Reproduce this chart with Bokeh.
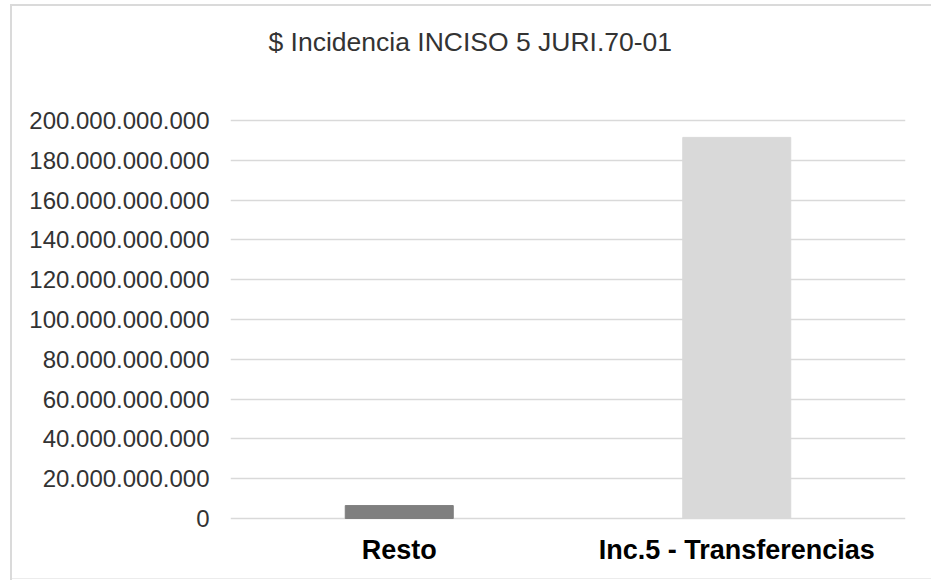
from bokeh.plotting import figure
from bokeh.models import Range1d, FixedTicker, ColumnDataSource, Title
from bokeh.embed import file_html
from bokeh.resources import INLINE

title_text = "$ Incidencia INCISO 5 JURI.70-01"
categories = ["Resto", "Inc.5 - Transferencias"]
values = [6_500_000_000, 191_500_000_000]
bar_colors = ["#7f7f7f", "#d9d9d9"]
tick_values = [0, 20_000_000_000, 40_000_000_000, 60_000_000_000, 80_000_000_000,
               100_000_000_000, 120_000_000_000, 140_000_000_000, 160_000_000_000,
               180_000_000_000, 200_000_000_000]
tick_labels = ["0", "20.000.000.000", "40.000.000.000", "60.000.000.000", "80.000.000.000",
               "100.000.000.000", "120.000.000.000", "140.000.000.000", "160.000.000.000",
               "180.000.000.000", "200.000.000.000"]

src = ColumnDataSource(dict(cat=categories, val=values, color=bar_colors))

p = figure(width=931, height=580, x_range=categories,
           y_range=Range1d(-1_000_000_000, 201_000_000_000),
           output_backend="svg", toolbar_location=None,
           min_border_left=230, min_border_right=26, min_border_top=118, min_border_bottom=60)

p.vbar(x="cat", top="val", width=0.32, color="color", source=src)

# spacer between frame and title
p.add_layout(Title(text=" ", text_font_size="2px", standoff=58), "above")
p.add_layout(Title(text=title_text, align="left", offset=38, standoff=0,
                   text_font="Liberation Sans", text_font_size="26.5px",
                   text_font_style="normal", text_color="#333333"), "above")

p.outline_line_color = None
p.background_fill_color = None
p.border_fill_color = None
p.styles = {
    "background-color": "white",
    "background-image": "linear-gradient(#dadada,#dadada), linear-gradient(#dadada,#dadada), linear-gradient(#ececec,#ececec)",
    "background-size": "2px 576px, 925px 2px, 925px 1px",
    "background-position": "10px 4px, 10px 4px, 10px 578px",
    "background-repeat": "no-repeat",
}

p.yaxis.ticker = FixedTicker(ticks=tick_values)
p.yaxis.major_label_overrides = {v: l for v, l in zip(tick_values, tick_labels)}
p.yaxis.axis_line_color = None
p.yaxis.major_tick_line_color = None
p.yaxis.minor_tick_line_color = None
p.yaxis.major_tick_out = 0
p.yaxis.major_label_standoff = 21
p.yaxis.major_label_text_font = "Liberation Sans"
p.yaxis.major_label_text_font_size = "24px"
p.yaxis.major_label_text_color = "#333333"

p.xaxis.axis_line_color = None
p.xaxis.major_tick_line_color = None
p.xaxis.minor_tick_line_color = None
p.xaxis.major_tick_out = 0
p.xaxis.major_label_standoff = 14
p.xaxis.major_label_text_font = "Liberation Sans"
p.xaxis.major_label_text_font_size = "27px"
p.xaxis.major_label_text_font_style = "bold"
p.xaxis.major_label_text_color = "#000000"

p.xgrid.grid_line_color = None
p.ygrid.ticker = FixedTicker(ticks=tick_values)
p.ygrid.grid_line_color = "#d9d9d9"
p.ygrid.grid_line_width = 1.5
p.ygrid.level = "underlay"

open("out.html", "w").write(file_html(p, INLINE))
